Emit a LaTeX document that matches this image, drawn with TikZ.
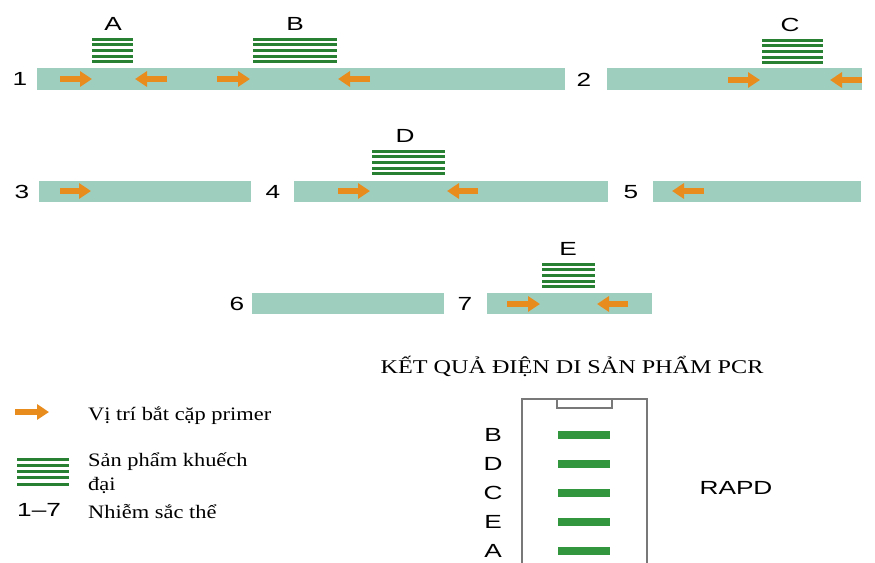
\documentclass[tikz,border=0pt]{standalone}
\usepackage{graphicx}
\usepackage{fontspec}
\setmainfont{Liberation Serif}
\newfontfamily\lsans{Liberation Sans}
\usetikzlibrary{arrows.meta}
\definecolor{chrom}{RGB}{158,206,190}
\definecolor{primer}{RGB}{232,140,30}
\definecolor{amp}{RGB}{40,128,50}
\definecolor{band}{RGB}{50,150,62}
\definecolor{gelline}{RGB}{120,120,120}

% wide lettering used throughout the figure
\newcommand{\widesans}[1]{\scalebox{1.38}[1]{#1}}
\newcommand{\wideserif}[1]{\scalebox{1.18}[1]{#1}}

\tikzset{
  chromosome/.style={fill=chrom},
  primerarrow/.style={primer, line width=6pt,
    -{Triangle[length=12pt,width=15pt]}},
  amplicon/.style={amp, line width=3pt},
  gelband/.style={fill=band},
  gelwall/.style={draw=gelline, line width=1.2pt},
  tag/.style={font=\lsans\fontsize{19}{22}\selectfont, inner sep=0pt},
  legendtext/.style={font=\fontsize{19}{23}\selectfont, inner sep=0pt, anchor=west},
}

% five stacked amplicon strands between x=#1 and x=#2, top strand at y=#3
\newcommand{\ampstack}[3]{%
  \foreach \k in {0,...,4}{\draw[amplicon] (#1,#3+\k*5.7) -- (#2,#3+\k*5.7);}}

\begin{document}
\begin{tikzpicture}[x=1pt,y=-1pt]
\useasboundingbox (0,0) rectangle (875,562);

% ---------- row 1: chromosomes 1 and 2 ----------
\fill[chromosome] (37,68) rectangle (565,90);
\fill[chromosome] (607,68) rectangle (862,90);
\node[tag] (n1) at (20,79) {\widesans{1}};
\node[tag] (n2) at (584,80) {\widesans{2}};
\draw[primerarrow] (60,79) -- (92,79);
\draw[primerarrow] (167,79) -- (135,79);
\draw[primerarrow] (217,79) -- (250,79);
\draw[primerarrow] (370,79) -- (338,79);
\draw[primerarrow] (728,80) -- (760,80);
\draw[primerarrow] (862,80) -- (830,80);
\ampstack{92}{133}{39}
\ampstack{253}{337}{39}
\ampstack{762}{823}{40}
\node[tag] (pA) at (113,24) {\widesans{A}};
\node[tag] (pB) at (295,24) {\widesans{B}};
\node[tag] (pC) at (790,25) {\widesans{C}};

% ---------- row 2: chromosomes 3, 4 and 5 ----------
\fill[chromosome] (39,181) rectangle (251,202);
\fill[chromosome] (294,181) rectangle (608,202);
\fill[chromosome] (653,181) rectangle (861,202);
\node[tag] (n3) at (22,192) {\widesans{3}};
\node[tag] (n4) at (273,192) {\widesans{4}};
\node[tag] (n5) at (631,192) {\widesans{5}};
\draw[primerarrow] (60,191) -- (91,191);
\draw[primerarrow] (338,191) -- (370,191);
\draw[primerarrow] (478,191) -- (447,191);
\draw[primerarrow] (704,191) -- (672,191);
\ampstack{372}{445}{151}
\node[tag] (pD) at (405,136) {\widesans{D}};

% ---------- row 3: chromosomes 6 and 7 ----------
\fill[chromosome] (252,293) rectangle (444,314);
\fill[chromosome] (487,293) rectangle (652,314);
\node[tag] (n6) at (237,304) {\widesans{6}};
\node[tag] (n7) at (465,304) {\widesans{7}};
\draw[primerarrow] (507,304) -- (540,304);
\draw[primerarrow] (628,304) -- (597,304);
\ampstack{542}{595}{264}
\node[tag] (pE) at (568,249) {\widesans{E}};

% ---------- legend ----------
\draw[primerarrow] (15,412) -- (49,412);
\node[legendtext] (lg1) at (88,416) {\wideserif{Vị trí bắt cặp primer}};
\foreach \k in {0,...,4}{\draw[amplicon] (17,459+\k*6.25) -- (69,459+\k*6.25);}
\node[legendtext] (lg2) at (88,462) {\wideserif{Sản phẩm khuếch}};
\node[legendtext] (lg2b) at (88,485) {\wideserif{đại}};
\node[tag, anchor=west] (lg3) at (17,510) {\widesans{1–7}};
\node[legendtext] (lg3t) at (88,512) {\wideserif{Nhiễm sắc thể}};

% ---------- electrophoresis gel ----------
\node[font=\fontsize{19.5}{22}\selectfont, inner sep=0pt] (geltitle) at (572,366)
  {\scalebox{1.24}[1]{KẾT QUẢ ĐIỆN DI SẢN PHẨM PCR}};
\draw[gelwall] (522,563) -- (522,399) -- (647,399) -- (647,563);
\draw[gelwall] (557,399) -- (557,408) -- (612,408) -- (612,399);
\foreach \lbl/\yy in {B/435, D/464, C/493, E/522, A/551}{
  \fill[gelband] (558,\yy-4) rectangle (610,\yy+4);
  \node[tag] (g\lbl) at (493,\yy) {\widesans{\lbl}};
}
\node[tag] (rapd) at (736,488) {\widesans{RAPD}};
\end{tikzpicture}
\end{document}
